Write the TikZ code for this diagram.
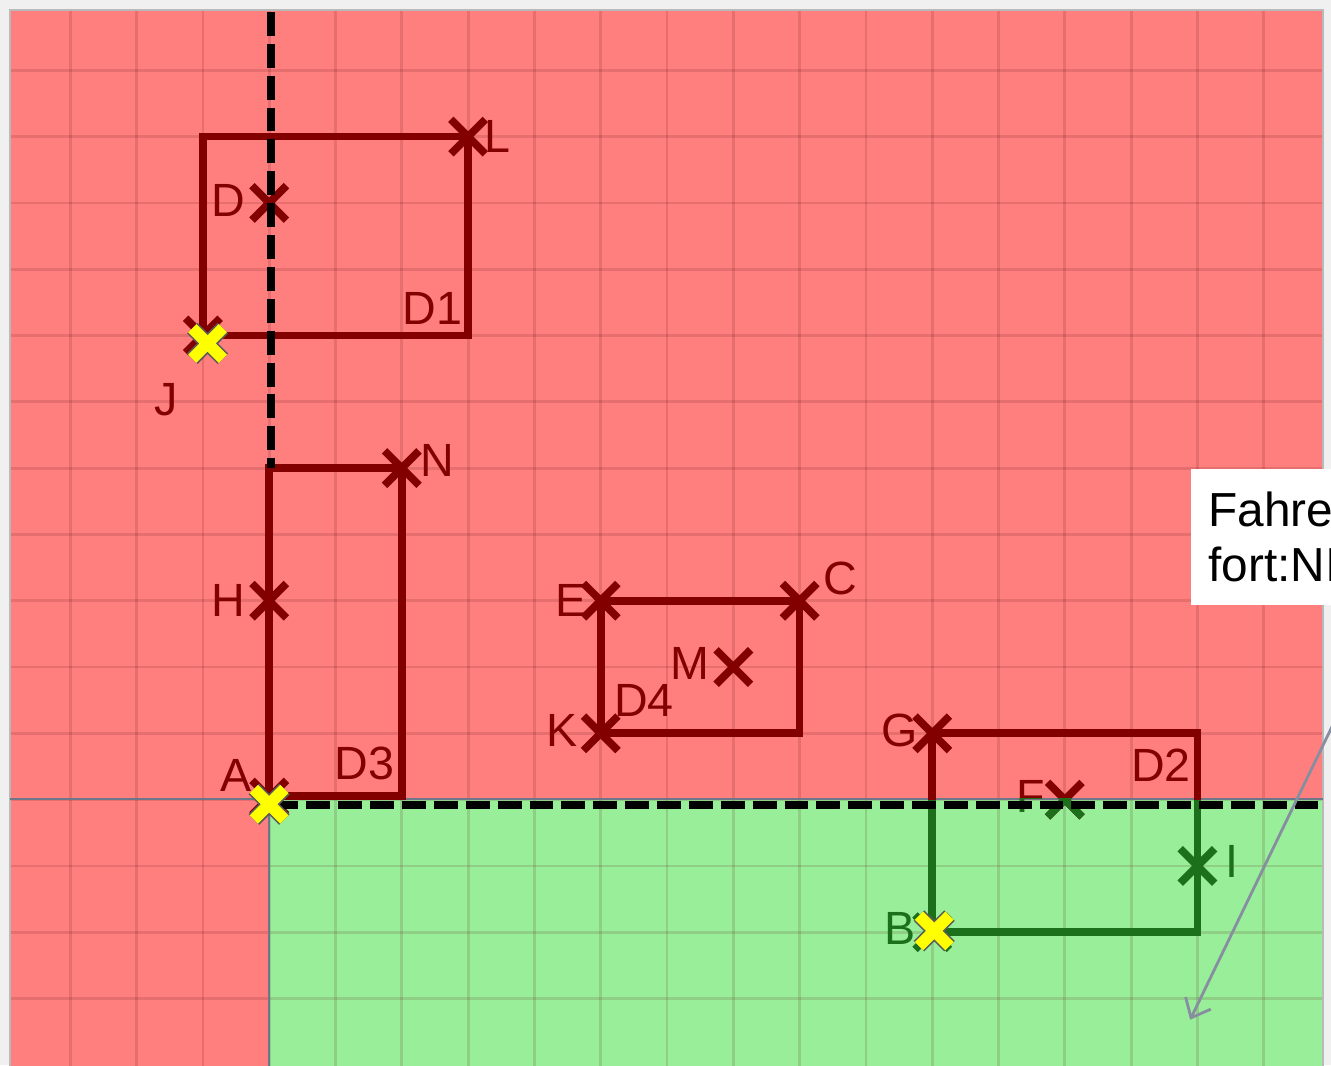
\documentclass[tikz,border=0pt]{standalone}
\usepackage{fontspec}
\setmainfont{Liberation Sans}
\usetikzlibrary{arrows.meta,shapes.misc}
\definecolor{bgred}{RGB}{255,127,127}
\definecolor{bggreen}{RGB}{152,238,153}
\definecolor{dred}{RGB}{130,0,0}
\definecolor{dgreen}{RGB}{28,112,28}
\definecolor{edgegray}{RGB}{110,118,138}
\definecolor{arrowgray}{RGB}{135,142,160}
\definecolor{ygray}{RGB}{90,90,90}
\definecolor{markyellow}{RGB}{255,255,0}
\tikzset{
  xmark/.style={cross out, draw=dred, line width=3.3pt, minimum size=0.52cm, inner sep=0pt, outer sep=0pt},
  gxmark/.style={xmark, draw=dgreen},
  ymark/.style={cross out, draw=ygray, double=markyellow, double distance=5pt, line width=0.7pt, minimum size=0.46cm, inner sep=0pt, outer sep=0pt},
  lbl/.style={text=dred, font=\fontsize{20}{24}\selectfont, inner sep=0pt},
  glbl/.style={lbl, text=dgreen},
  rline/.style={draw=dred, line width=3.3pt},
  gline/.style={draw=dgreen, line width=3.3pt},
  dashline/.style={draw=black, line width=3.4pt, dash pattern=on 10.26pt off 3.42pt},
  gridline/.style={black!70!red, opacity=0.13, line width=1.2pt},
  boundary/.style={draw=edgegray, line width=0.9pt},
  noteb/.style={fill=white, text=black, text width=2.47cm, minimum height=2.05cm, inner xsep=0.27cm, inner ysep=0pt, align=left, font=\fontsize{20.5}{23.5}\selectfont},
  pointer/.style={draw=arrowgray, line width=1.2pt, -{Straight Barb[length=7pt,width=12pt]}},
}
\begin{document}
\begin{tikzpicture}[x=1cm,y=-1cm]
\useasboundingbox (-0.0603,-0.0603) rectangle (20.015,16.003);
\clip (-0.0603,-0.0603) rectangle (20.015,16.003);
% frame and regions
\fill[gray!12] (-0.0603,-0.0603) rectangle (20.015,16.003);
\fill[bgred] (0.09,0.09) rectangle (19.894,16.1);
\fill[bggreen] (4,12) rectangle (19.894,16.1);
\begin{scope}
\clip (0.09,0.09) rectangle (19.894,16.1);
\foreach \i in {1,...,19} \draw[gridline] (\i,0.09) -- (\i,16.1);
\foreach \j in {1,...,15} \draw[gridline] (0.09,\j) -- (19.894,\j);
\end{scope}
\draw[gray!55, line width=1pt] (0.09,0.09) rectangle (19.894,16.1);
\draw[boundary] (0.09,11.99) -- (19.894,11.99);
\draw[boundary] (4,11.99) -- (4,16.1);
% shapes
\draw[rline] (3,2) rectangle (7,5);
\draw[rline] (4,11.95) -- (4,7) -- (6,7) -- (6,11.95) -- cycle;
\draw[rline] (9,9) rectangle (12,11);
\draw[rline] (14,12) -- (14,11) -- (18,11) -- (18,12);
\draw[gline] (14,12) -- (14,14) -- (18,14) -- (18,12);
% crosses
\node[xmark] (L) at (7,2) {};
\node[xmark] (D) at (4,3) {};
\node[xmark] (J) at (3,5) {};
\node[xmark] (N) at (6,7) {};
\node[xmark] (H) at (4,9) {};
\node[xmark] (A) at (4,11.97) {};
\node[xmark] (E) at (9,9) {};
\node[xmark] (C) at (12,9) {};
\node[xmark] (K) at (9,11) {};
\node[xmark] (M) at (11,10) {};
\node[xmark] (G) at (14,11) {};
\node[xmark] (F) at (16,12) {};
\node[gxmark] (I) at (18,13) {};
\node[gxmark] (B) at (14,14) {};
% labels
\node[lbl] (lL) at (7.44,2.0) {L};
\node[lbl] (lD) at (3.38,2.96) {D};
\node[lbl] (lJ) at (2.44,5.97) {J};
\node[lbl] (lD1) at (6.46,4.585) {D1};
\node[lbl] (lN) at (6.53,6.88) {N};
\node[lbl] (lH) at (3.38,8.99) {H};
\node[lbl] (lA) at (3.5,11.63) {A};
\node[lbl] (lD3) at (5.44,11.46) {D3};
\node[lbl] (lE) at (8.55,9.0) {E};
\node[lbl] (lC) at (12.61,8.66) {C};
\node[lbl] (lM) at (10.35,9.94) {M};
\node[lbl] (lK) at (8.42,10.95) {K};
\node[lbl] (lD4) at (9.65,10.5) {D4};
\node[lbl] (lG) at (13.51,10.95) {G};
\node[lbl] (lD2) at (17.45,11.48) {D2};
\node[lbl] (lF) at (15.48,11.95) {F};
\node[glbl] (lI) at (18.52,12.94) {I};
\node[glbl] (lB) at (13.51,13.95) {B};
% green overlay of the parts below the boundary
\begin{scope}
\clip (4,11.99) rectangle (19.894,16.1);
\draw[gline] (F.north west) -- (F.south east) (F.north east) -- (F.south west);
\node[glbl] (lFg) at (15.48,11.95) {F};
\end{scope}
% dashed lines
\coordinate (vd1) at (4.03,0.12);
\coordinate (vd2) at (4.03,7.0);
\coordinate (hd1) at (4.08,12.08);
\coordinate (hd2) at (19.894,12.08);
\draw[dashline] (vd1) -- (vd2);
\draw[dashline] (hd1) -- (hd2);
% yellow crosses
\node[ymark] (Jy) at (3.07,5.12) {};
\node[ymark] (Ay) at (4,12.07) {};
\node[ymark] (By) at (14.03,13.98) {};
% callout and pointer
\node[noteb, anchor=north west] (note) at (17.89,7.01) {Fahre\\fort:NI};
\coordinate (ptip) at (17.89,15.32);
\draw[pointer] (note.south east) -- (ptip);
\end{tikzpicture}
\end{document}
